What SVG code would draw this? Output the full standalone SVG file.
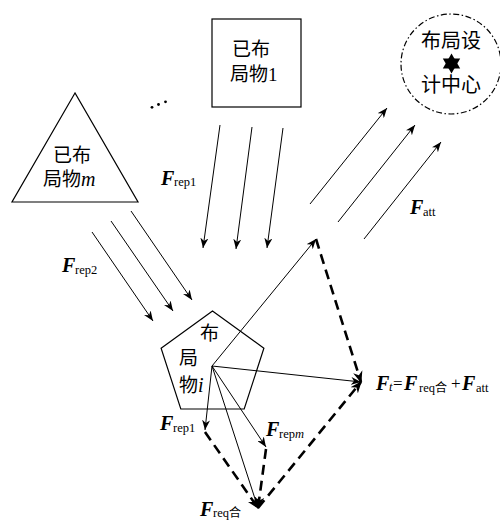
<svg xmlns="http://www.w3.org/2000/svg" width="500" height="522" viewBox="0 0 500 522">
<style>
.shape{fill:none;stroke:#000;stroke-width:1.2}
.thin{fill:none;stroke:#000;stroke-width:1}
.dash{fill:none;stroke:#000;stroke-width:2.6;stroke-dasharray:10 6}
.cjk{font-family:"Noto Sans CJK SC","Noto Sans CJK JP",sans-serif;font-size:19px;fill:#000}
.F{font-family:"Liberation Serif",serif;font-weight:bold;font-style:italic;font-size:20px;fill:#000}
.sub{font-family:"Liberation Serif",serif;font-size:12.5px;fill:#000}
.subc{font-family:"Noto Sans CJK SC",sans-serif;font-size:12px;fill:#000}
.it{font-family:"Liberation Serif",serif;font-style:italic;font-size:20px;fill:#000}
.op{font-family:"Liberation Serif",serif;font-size:17px;fill:#000}
</style>
<defs>
<marker id="a" viewBox="0 0 10 8" refX="10" refY="4" markerWidth="10" markerHeight="8" markerUnits="userSpaceOnUse" orient="auto">
<path d="M0,0 L10,4 L0,8 L3,4 z" fill="#000"/>
</marker>
<marker id="b" viewBox="0 0 10 8" refX="9" refY="4" markerWidth="12" markerHeight="10" markerUnits="userSpaceOnUse" orient="auto">
<path d="M0,0 L10,4 L0,8 L3,4 z" fill="#000"/>
</marker>
</defs>

<g id="node-m">
<polygon class="shape" points="75,93 12,202 138,202"/>
<text class="cjk" x="53" y="162">已布</text>
<text class="cjk" x="43" y="186">局物<tspan class="it">m</tspan></text>
</g>

<g id="node-1">
<rect class="shape" x="212" y="19" width="89" height="88"/>
<text class="cjk" x="232" y="56">已布</text>
<text class="cjk" x="230" y="81">局物<tspan class="op" style="font-size:19px">1</tspan></text>
</g>

<g id="ellipsis">
<circle cx="152" cy="107.3" r="1.4"/>
<circle cx="158.5" cy="104.5" r="1.4"/>
<circle cx="165.5" cy="101.8" r="1.4"/>
</g>

<g id="center">
<circle cx="451" cy="64" r="50" fill="none" stroke="#000" stroke-width="1.2" stroke-dasharray="6 2.5 1.5 2.5"/>
<text class="cjk" x="451" y="48" text-anchor="middle" style="font-size:20px">布局设</text>
<polygon points="451.5,53.5 460.2,68.5 442.8,68.5" fill="#000"/>
<polygon points="451.5,73.5 460.2,58.5 442.8,58.5" fill="#000"/>
<text class="cjk" x="451" y="92" text-anchor="middle" style="font-size:20px">计中心</text>
</g>

<g id="node-i">
<polygon class="shape" points="212.5,311 263.9,348.3 244.2,409 180.8,409 161.1,348.3"/>
<text class="cjk" x="200" y="340">布</text>
<text class="cjk" x="179" y="365">局</text>
<text class="cjk" x="179" y="392">物<tspan class="it">i</tspan></text>
</g>

<g id="connectors">
<line class="thin" x1="220" y1="125" x2="203" y2="248" marker-end="url(#a)"/>
<line class="thin" x1="252" y1="127" x2="236" y2="249" marker-end="url(#a)"/>
<line class="thin" x1="283" y1="128" x2="267" y2="248" marker-end="url(#a)"/>
<line class="thin" x1="131" y1="211" x2="192" y2="300" marker-end="url(#a)"/>
<line class="thin" x1="111" y1="221" x2="173" y2="311" marker-end="url(#a)"/>
<line class="thin" x1="92" y1="232" x2="153" y2="321" marker-end="url(#a)"/>
<line class="thin" x1="310" y1="204" x2="387" y2="108" marker-end="url(#a)"/>
<line class="thin" x1="338" y1="222" x2="415" y2="125" marker-end="url(#a)"/>
<line class="thin" x1="364" y1="239" x2="441" y2="142" marker-end="url(#a)"/>
<line class="thin" x1="212" y1="366" x2="316" y2="239" marker-end="url(#a)"/>
<line class="thin" x1="212" y1="366" x2="361" y2="382" marker-end="url(#a)"/>
<line class="thin" x1="212" y1="366" x2="205" y2="430" marker-end="url(#a)"/>
<line class="thin" x1="212" y1="366" x2="266" y2="447" marker-end="url(#a)"/>
<line class="thin" x1="212" y1="366" x2="258" y2="508" marker-end="url(#a)"/>
<line class="dash" x1="316" y1="239" x2="361" y2="382" marker-end="url(#b)"/>
<line class="dash" x1="258" y1="508" x2="361" y2="382" marker-end="url(#b)"/>
<line class="dash" x1="205" y1="432" x2="258" y2="508" marker-end="url(#b)"/>
<line class="dash" x1="266" y1="449" x2="258" y2="508" marker-end="url(#b)"/>
</g>

<g id="labels">
<text class="F" x="161" y="185">F</text><text class="sub" x="174" y="186">rep1</text>
<text class="F" x="62" y="272">F</text><text class="sub" x="75" y="274">rep2</text>
<text class="F" x="410" y="214">F</text><text class="sub" x="423" y="216">att</text>
<text class="F" x="160" y="430">F</text><text class="sub" x="173" y="432">rep1</text>
<text class="F" x="266" y="436">F</text><text class="sub" x="279" y="438">rep<tspan style="font-style:italic">m</tspan></text>
<text class="F" x="376" y="390">F</text><text class="sub" x="389" y="391" style="font-style:italic">t</text>
<text class="op" x="393" y="389">=</text>
<text class="F" x="404" y="390">F</text><text class="sub" x="419" y="392">req<tspan class="subc">合</tspan></text>
<text class="op" x="451" y="389">+</text>
<text class="F" x="462" y="390">F</text><text class="sub" x="476" y="392">att</text>
<text class="F" x="200" y="516">F</text><text class="sub" x="213" y="517">req<tspan class="subc">合</tspan></text>
</g>
</svg>
